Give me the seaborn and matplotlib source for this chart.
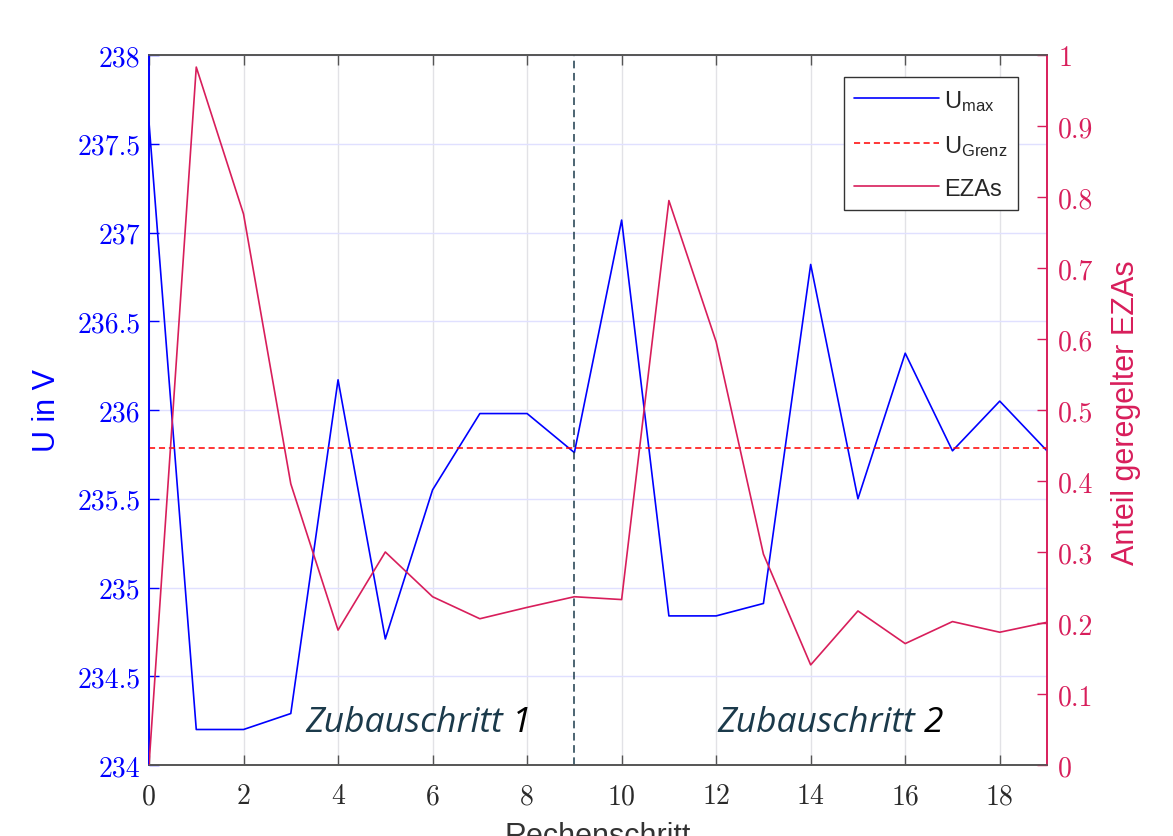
import numpy as np
import pandas as pd
import matplotlib
matplotlib.use("Agg")
import matplotlib.pyplot as plt
import seaborn as sns
from matplotlib.ticker import FuncFormatter, FixedLocator
from matplotlib.lines import Line2D

# ---------------- data ----------------
steps = list(range(20))
u_max = [237.62, 234.20, 234.20, 234.29, 236.17, 234.71, 235.55, 235.98, 235.98, 235.76,
         237.07, 234.84, 234.84, 234.91, 236.82, 235.50, 236.32, 235.77, 236.05, 235.77]
u_grenz = 235.785
eza_share = [0.0, 0.983, 0.776, 0.396, 0.190, 0.300, 0.237, 0.206, 0.222, 0.237,
             0.233, 0.795, 0.596, 0.297, 0.141, 0.217, 0.171, 0.202, 0.187, 0.201]
left_ticks = [234, 234.5, 235, 235.5, 236, 236.5, 237, 237.5, 238]
right_ticks = [0, 0.1, 0.2, 0.3, 0.4, 0.5, 0.6, 0.7, 0.8, 0.9, 1.0]
x_ticks = [0, 2, 4, 6, 8, 10, 12, 14, 16, 18]
step_split = 9
labels = ["U$_{\\mathrm{max}}$", "U$_{\\mathrm{Grenz}}$", "EZAs"]
annot = [("Zubauschritt", "1", 3.30), ("Zubauschritt", "2", 12.02)]

df = pd.DataFrame({"step": steps, "u_max": u_max, "eza": eza_share})

# ---------------- style ----------------
sns.set_theme(style="white")
plt.rcParams["font.family"] = ["Liberation Sans", "DejaVu Sans"]
plt.rcParams["mathtext.fontset"] = "custom"
plt.rcParams["mathtext.rm"] = "Liberation Sans"
plt.rcParams["mathtext.it"] = "Liberation Sans:italic"

BLUE = "#0000ff"
RED = "#ff0000"
CRIM = "#d81e5b"
NAVY = "#1b3a4b"
GREY = "#555555"

fig = plt.figure(figsize=(11.73, 8.37), dpi=100)
ax = fig.add_axes([149 / 1173, 71 / 837, 898 / 1173, 710 / 837])
ax2 = ax.twinx()

# grid
for xt in x_ticks:
    ax.axvline(xt, color="#e2e2e6", lw=1.0, zorder=0)
for yt in left_ticks:
    ax.axhline(yt, color="#e0e0ff", lw=1.0, zorder=0)

sns.lineplot(data=df, x="step", y="u_max", ax=ax, color=BLUE, lw=1.2, zorder=3)
ax.axhline(u_grenz, color=RED, lw=1.1, linestyle=(0, (4, 2.5)), zorder=3)
ax.axvline(step_split, color=NAVY, lw=1.1, linestyle=(0, (5, 3)), zorder=3)
sns.lineplot(data=df, x="step", y="eza", ax=ax2, color=CRIM, lw=1.2, zorder=3)

ax.set_xlim(0, 19)
ax.set_ylim(234, 238)
ax2.set_ylim(0, 1)

fmt = FuncFormatter(lambda v, p: "%g" % v)
ax.xaxis.set_major_locator(FixedLocator(x_ticks))
ax.yaxis.set_major_locator(FixedLocator(left_ticks))
ax2.yaxis.set_major_locator(FixedLocator(right_ticks))
ax.xaxis.set_major_formatter(fmt)
ax.yaxis.set_major_formatter(fmt)
ax2.yaxis.set_major_formatter(fmt)
for lab in ax.get_xticklabels() + ax.get_yticklabels() + ax2.get_yticklabels():
    lab.set_fontfamily("cmr10")
    lab.set_fontsize(20)

ax.tick_params(axis="x", direction="in", length=7, width=1, color=GREY, labelcolor="#2a2a2a",
               pad=13, top=True, bottom=True)
ax.tick_params(axis="y", direction="in", length=7, width=1, color=BLUE, labelcolor=BLUE, pad=6)
ax2.tick_params(axis="y", direction="in", length=7, width=1, color=CRIM, labelcolor=CRIM, pad=8)
ax2.tick_params(axis="x", top=False, bottom=False)

for a in (ax, ax2):
    a.spines["top"].set_color(GREY)
    a.spines["bottom"].set_color(GREY)
    a.spines["left"].set_color(BLUE)
    a.spines["right"].set_color(CRIM)
    for s in a.spines.values():
        s.set_linewidth(1.2)
        s.set_visible(True)

ax.set_xlabel("Rechenschritt", fontsize=22, color="#333333")
ax.xaxis.set_label_coords(0.5, -0.079)
ax.set_ylabel("U in V", fontsize=22, color=BLUE)
ax.yaxis.set_label_coords(-0.097, 0.5)
ax2.set_ylabel("Anteil geregelter EZAs", fontsize=22, color=CRIM)
ax2.yaxis.set_label_coords(1.0715, 0.497)

# annotations
for word, num, xpos in annot:
    t = ax.text(xpos, 234.24, word + " ", fontsize=25.5, style="italic",
                family=["Open Sans", "DejaVu Sans"], color=NAVY, ha="left", va="center", zorder=5)
    ax.annotate(num, xy=(1, 0), xycoords=t, fontsize=25.5, style="italic",
                family=["Open Sans", "DejaVu Sans"], color="black", ha="left", va="bottom", zorder=5)

handles = [Line2D([], [], color=BLUE, lw=1.2),
           Line2D([], [], color=RED, lw=1.1, linestyle=(0, (4, 2.5))),
           Line2D([], [], color=CRIM, lw=1.2)]
leg = ax2.legend(handles, labels, loc="upper right", bbox_to_anchor=(0.9677, 0.969),
                 borderaxespad=0, fontsize=17, handlelength=3.6, handletextpad=0.2,
                 frameon=True, fancybox=False, edgecolor="#333333", framealpha=1,
                 labelspacing=0.85, borderpad=0.45)
leg.get_frame().set_linewidth(1.0)

fig.savefig("out.png", dpi=100)
